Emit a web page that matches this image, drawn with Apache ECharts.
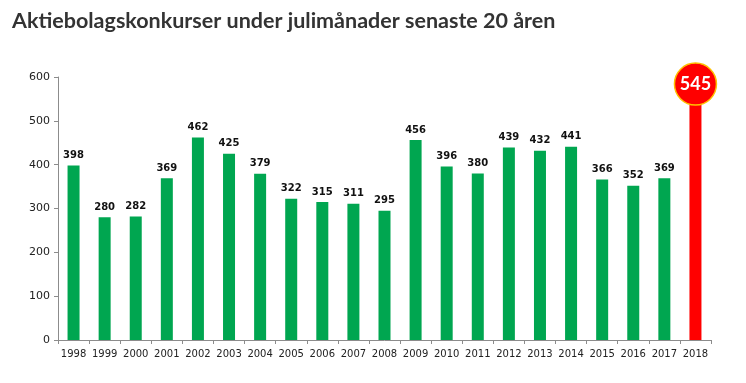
<!DOCTYPE html>
<html><head><meta charset="utf-8">
<script src="https://cdn.jsdelivr.net/npm/echarts@6/dist/echarts.min.js"></script>
<style>html,body{margin:0;padding:0;background:#fff}#c{width:746px;height:383px}</style>
</head><body><div id="c"></div>
<script>
const titleText = 'Aktiebolagskonkurser under julimånader senaste 20 åren';
const years = ['1998','1999','2000','2001','2002','2003','2004','2005','2006','2007','2008','2009','2010','2011','2012','2013','2014','2015','2016','2017','2018'];
const values = [398,280,282,369,462,425,379,322,315,311,295,456,396,380,439,432,441,366,352,369,545];
const highlightYear = '2018';
const yTicks = {min:0, max:600, interval:100};

const chart = echarts.init(document.getElementById('c'));
const data = values.map((v,i)=> years[i]===highlightYear
  ? {value:v, itemStyle:{color:'#ff0000'}, label:{show:false}}
  : {value:v});
const hiIdx = years.indexOf(highlightYear);
chart.setOption({
  animation:false,
  title:{text:titleText, left:7, top:5, textStyle:{fontFamily:'Lato', fontWeight:'bold', fontSize:21.5, color:'#333'}},
  grid:{left:58, right:35, top:77, bottom:43},
  xAxis:{type:'category', data:years,
    axisLine:{lineStyle:{color:'#8c8c8c'}},
    axisTick:{show:true, interval:0, alignWithLabel:false, length:4, lineStyle:{color:'#8c8c8c'}},
    axisLabel:{interval:0, color:'#222', fontSize:10, fontFamily:'DejaVu Sans', margin:9}},
  yAxis:{type:'value', min:yTicks.min, max:yTicks.max, interval:yTicks.interval,
    axisLine:{show:true, lineStyle:{color:'#8c8c8c'}},
    axisTick:{show:true, length:4, lineStyle:{color:'#8c8c8c'}},
    splitLine:{show:false},
    axisLabel:{color:'#222', fontSize:11, fontFamily:'DejaVu Sans', margin:8}},
  series:[{type:'bar', data:data, barWidth:12, itemStyle:{color:'#00a650'},
    label:{show:true, position:'top', distance:5, fontWeight:'bold', fontSize:10, color:'#111', fontFamily:'DejaVu Sans'},
    markPoint:{data:[{coord:[hiIdx, values[hiIdx]], value:values[hiIdx]}],
      symbol:'circle', symbolSize:42, symbolOffset:[0,-17],
      itemStyle:{color:'#ff0000', borderColor:'#ffc000', borderWidth:1.5},
      label:{show:true, color:'#fff', fontWeight:'bold', fontSize:18, fontFamily:'Lato'}}
  }]
});
</script></body></html>
